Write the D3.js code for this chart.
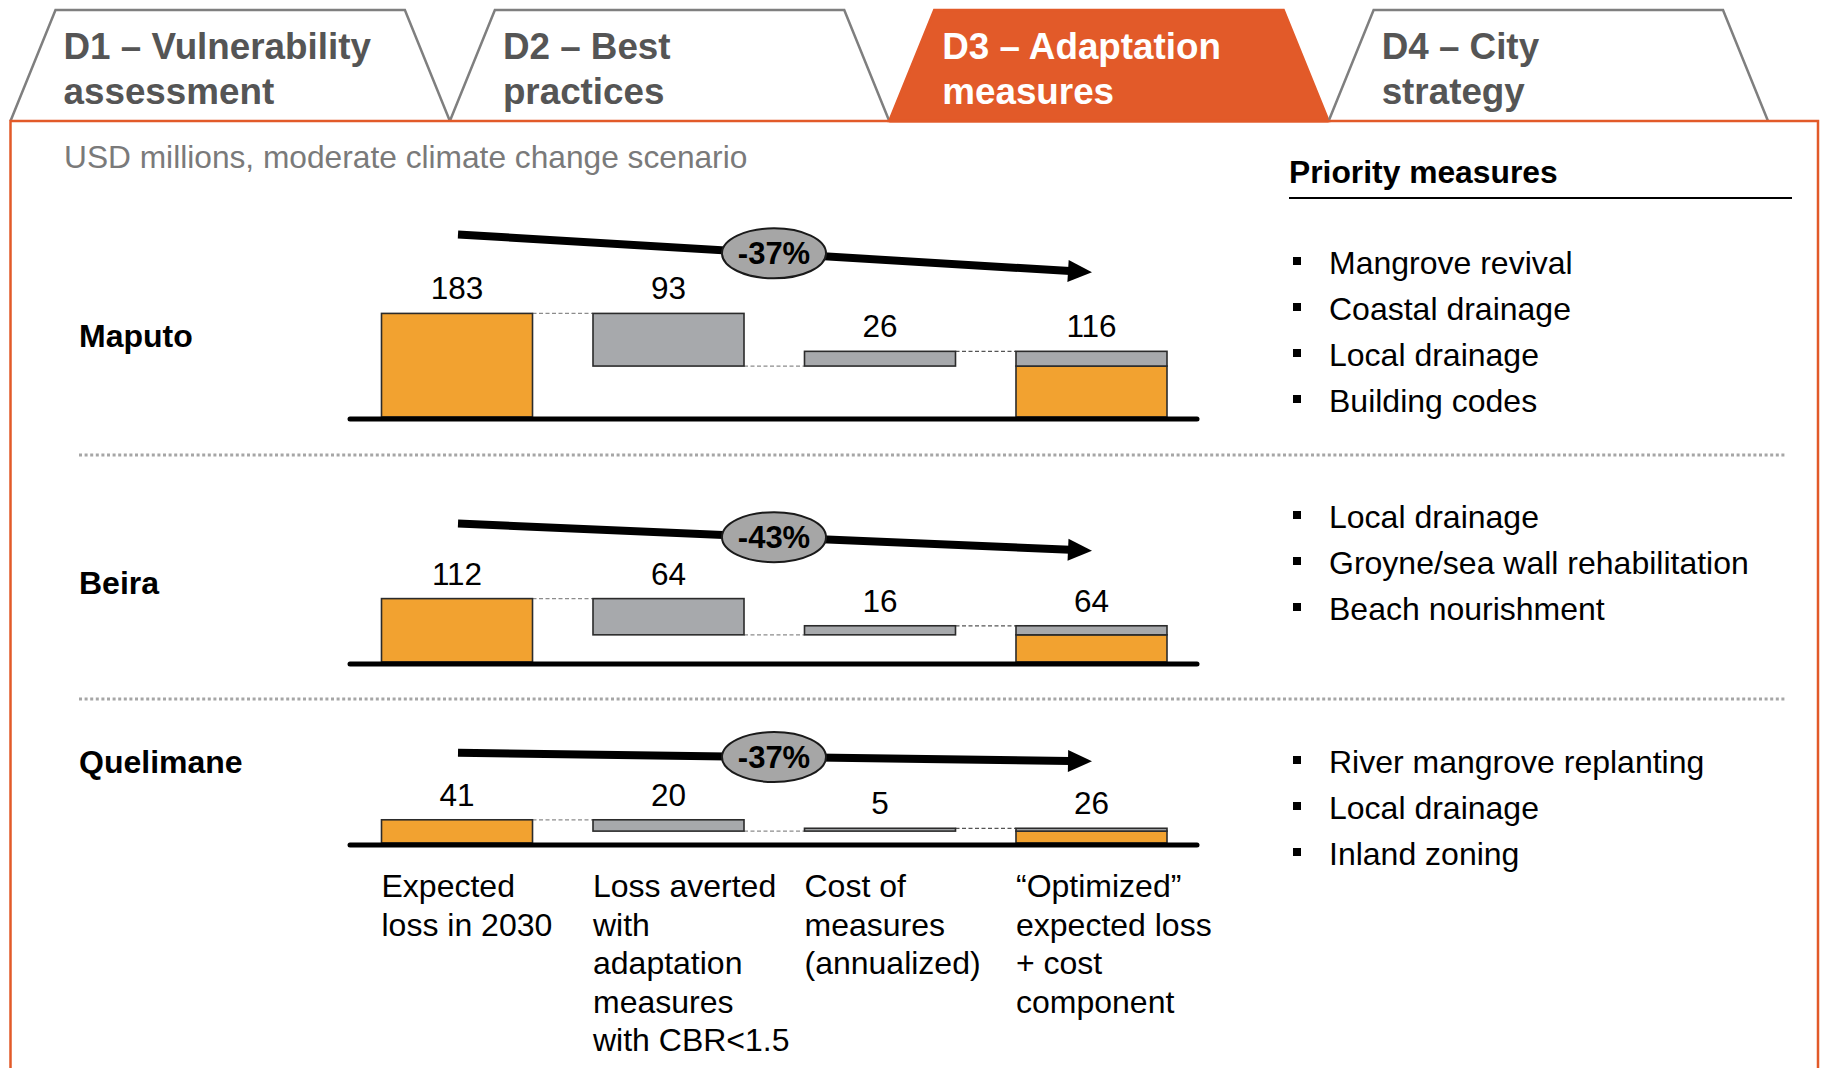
<!DOCTYPE html>
<html>
<head>
<meta charset="utf-8">
<script src="https://cdn.jsdelivr.net/npm/d3@7"></script>
<style>
  html, body { margin: 0; padding: 0; background: #fff; }
  svg { display: block; font-family: "Liberation Sans", Arial, sans-serif; }
</style>
</head>
<body>
<svg id="chart" width="1824" height="1068"></svg>
<script>
// ---------------- DATA ----------------
const tabLabels = [
  ["D1 – Vulnerability", "assessment"],
  ["D2 – Best", "practices"],
  ["D3 – Adaptation", "measures"],
  ["D4 – City", "strategy"]
];
const activeTab = 2;
const subtitle = "USD millions, moderate climate change scenario";
const cities = ["Maputo", "Beira", "Quelimane"];
const expectedLoss = [183, 112, 41];
const lossAverted = [93, 64, 20];
const costOfMeasures = [26, 16, 5];
const optimizedTotal = [116, 64, 26];
const changeLabels = ["-37%", "-43%", "-37%"];
const categoryKeys = ["expected", "averted", "cost", "optimized"];
const categoryLabels = [
  ["Expected", "loss in 2030"],
  ["Loss averted", "with", "adaptation", "measures", "with CBR<1.5"],
  ["Cost of", "measures", "(annualized)"],
  ["\u201COptimized\u201D", "expected loss", "+ cost", "component"]
];
const priorityTitle = "Priority measures";
const priorityMeasures = [
  ["Mangrove revival", "Coastal drainage", "Local drainage", "Building codes"],
  ["Local drainage", "Groyne/sea wall rehabilitation", "Beach nourishment"],
  ["River mangrove replanting", "Local drainage", "Inland zoning"]
];

// ---------------- LAYOUT ----------------
const ORANGE = "#E25A29";
const BAR_ORANGE = "#F2A230";
const BAR_GRAY = "#A7A9AC";
const FS = 32;
const panelBaselines = [419, 664, 845];
const arrowOffsets = [79, 75, 67];
const cityLabelBaselines = [347, 594, 773];
const measureFirstBaselines = [274, 528, 773];
const separatorYs = [455, 699];

const svg = d3.select("#chart");

// ---- Tabs ----
const tabX = d3.scaleBand().domain(d3.range(4)).range([10.5, 1768]).padding(0);
const tabTop = 10, tabBottom = 121, tabInset = 45;
tabLabels.forEach((lines, i) => {
  const x0 = tabX(i), x1 = x0 + tabX.bandwidth();
  const active = i === activeTab;
  const pts = [[x0, tabBottom], [x0 + tabInset, tabTop], [x1 - tabInset, tabTop], [x1, tabBottom]];
  svg.append("path")
    .attr("d", d3.line()(pts) + (active ? "Z" : ""))
    .attr("fill", active ? ORANGE : "#fff")
    .attr("stroke", active ? ORANGE : "#7f7f7f")
    .attr("stroke-width", 2.5)
    .attr("stroke-linejoin", "miter");
  const t = svg.append("text")
    .attr("x", x0 + 53)
    .attr("font-size", 36.8)
    .attr("font-weight", "bold")
    .attr("fill", active ? "#fff" : "#555555");
  lines.forEach((ln, j) => {
    t.append("tspan").attr("x", x0 + 53).attr("y", 59 + j * 45).text(ln);
  });
});

// ---- Orange panel ----
svg.append("path")
  .attr("d", d3.line()([[10.5, 1080], [10.5, tabBottom], [1818, tabBottom], [1818, 1080]]))
  .attr("fill", "none")
  .attr("stroke", ORANGE)
  .attr("stroke-width", 2.5);
{
  const x0 = tabX(activeTab), x1 = x0 + tabX.bandwidth();
  svg.append("line").attr("x1", x0).attr("x2", x1).attr("y1", tabBottom).attr("y2", tabBottom)
    .attr("stroke", ORANGE).attr("stroke-width", 3);
}

// ---- Subtitle ----
svg.append("text").attr("x", 64).attr("y", 168)
  .attr("font-size", 31.7).attr("fill", "#7a7a7a").text(subtitle);

// ---- Priority measures header ----
svg.append("text").attr("x", 1289).attr("y", 183)
  .attr("font-size", 31.8).attr("font-weight", "bold").attr("fill", "#000").text(priorityTitle);
svg.append("line").attr("x1", 1289).attr("x2", 1792).attr("y1", 198).attr("y2", 198)
  .attr("stroke", "#000").attr("stroke-width", 2);

// ---- Separators ----
separatorYs.forEach(y => {
  svg.append("line").attr("x1", 79).attr("x2", 1786).attr("y1", y).attr("y2", y)
    .attr("stroke", "#a6a6a6").attr("stroke-width", 3).attr("stroke-dasharray", "3,2.6");
});

// ---- Scales ----
const x = d3.scaleBand().domain(categoryKeys).range([381.5, 1167]).paddingInner(0.286).paddingOuter(0);
const bw = x.bandwidth();
const PX_PER_UNIT = 0.566;

cities.forEach((city, i) => {
  const base = panelBaselines[i];
  const barBottom = base - 2;
  const y = d3.scaleLinear().domain([0, 1]).range([barBottom, barBottom - PX_PER_UNIT]);

  const e = expectedLoss[i], a = lossAverted[i], c = costOfMeasures[i], tot = optimizedTotal[i];
  const rem = e - a;
  const segs = [
    { key: "expected", lo: 0, hi: e, fill: BAR_ORANGE },
    { key: "averted", lo: rem, hi: e, fill: BAR_GRAY },
    { key: "cost", lo: rem, hi: rem + c, fill: BAR_GRAY },
    { key: "optimized", lo: 0, hi: tot - c, fill: BAR_ORANGE },
    { key: "optimized", lo: tot - c, hi: tot, fill: BAR_GRAY }
  ];
  const g = svg.append("g");

  const conns = [
    { from: "expected", to: "averted", v: e, color: "#8c8c8c" },
    { from: "averted", to: "cost", v: rem, color: "#8c8c8c" },
    { from: "cost", to: "optimized", v: rem + c, color: "#555" }
  ];
  g.selectAll("line.conn").data(conns).join("line")
    .attr("class", "conn")
    .attr("x1", d => x(d.from) + bw).attr("x2", d => x(d.to))
    .attr("y1", d => y(d.v)).attr("y2", d => y(d.v))
    .attr("stroke", d => d.color).attr("stroke-width", 1.3).attr("stroke-dasharray", "4,2.5");

  g.selectAll("rect.bar").data(segs).join("rect")
    .attr("class", "bar")
    .attr("x", d => x(d.key))
    .attr("width", bw)
    .attr("y", d => y(d.hi))
    .attr("height", d => Math.max(0.5, y(d.lo) - y(d.hi)))
    .attr("fill", d => d.fill)
    .attr("stroke", "#2b2b2b")
    .attr("stroke-width", 1.6);

  g.append("line").attr("x1", 350).attr("x2", 1197).attr("y1", base).attr("y2", base)
    .attr("stroke", "#000").attr("stroke-width", 5).attr("stroke-linecap", "round");

  const labels = [
    { key: "expected", v: e, top: e },
    { key: "averted", v: a, top: e },
    { key: "cost", v: c, top: rem + c },
    { key: "optimized", v: tot, top: tot }
  ];
  g.selectAll("text.val").data(labels).join("text")
    .attr("class", "val")
    .attr("x", d => x(d.key) + bw / 2)
    .attr("y", d => y(d.top) - 14)
    .attr("text-anchor", "middle")
    .attr("font-size", 31.5)
    .attr("fill", "#000")
    .text(d => d.v);

  const ax0 = 458, ax1 = 1092;
  const ay0 = y(e) - arrowOffsets[i], ay1 = y(tot) - arrowOffsets[i];
  const headLen = 24, headHalf = 11;
  const ang = Math.atan2(ay1 - ay0, ax1 - ax0);
  const bx = ax1 - headLen * Math.cos(ang), by = ay1 - headLen * Math.sin(ang);
  g.append("line").attr("x1", ax0).attr("y1", ay0).attr("x2", bx + 2 * Math.cos(ang)).attr("y2", by + 2 * Math.sin(ang))
    .attr("stroke", "#000").attr("stroke-width", 8);
  g.append("path")
    .attr("d", d3.line()([
      [ax1, ay1],
      [bx - headHalf * Math.sin(ang), by + headHalf * Math.cos(ang)],
      [bx + headHalf * Math.sin(ang), by - headHalf * Math.cos(ang)]
    ]) + "Z")
    .attr("fill", "#000");
  const ecx = 774;
  const ecy = ay0 + (ay1 - ay0) * (ecx - ax0) / (ax1 - ax0);
  g.append("ellipse").attr("cx", ecx).attr("cy", ecy).attr("rx", 52).attr("ry", 25)
    .attr("fill", "#A6A6A6").attr("stroke", "#1a1a1a").attr("stroke-width", 2);
  g.append("text").attr("x", ecx).attr("y", ecy + 11)
    .attr("text-anchor", "middle").attr("font-size", 31).attr("font-weight", "bold")
    .attr("fill", "#000").text(changeLabels[i]);

  svg.append("text").attr("x", 79).attr("y", cityLabelBaselines[i])
    .attr("font-size", FS).attr("font-weight", "bold").attr("fill", "#000").text(city);

  const mg = svg.append("g");
  priorityMeasures[i].forEach((m, j) => {
    const by2 = measureFirstBaselines[i] + j * 46;
    mg.append("rect").attr("x", 1293).attr("y", by2 - 17).attr("width", 8).attr("height", 8).attr("fill", "#000");
    mg.append("text").attr("x", 1329).attr("y", by2).attr("font-size", FS).attr("fill", "#000").text(m);
  });
});

// ---- Category labels ----
categoryKeys.forEach((k, i) => {
  const t = svg.append("text").attr("font-size", FS).attr("fill", "#000");
  categoryLabels[i].forEach((ln, j) => {
    t.append("tspan").attr("x", x(k)).attr("y", 897 + j * 38.5).text(ln);
  });
});
</script>
</body>
</html>
